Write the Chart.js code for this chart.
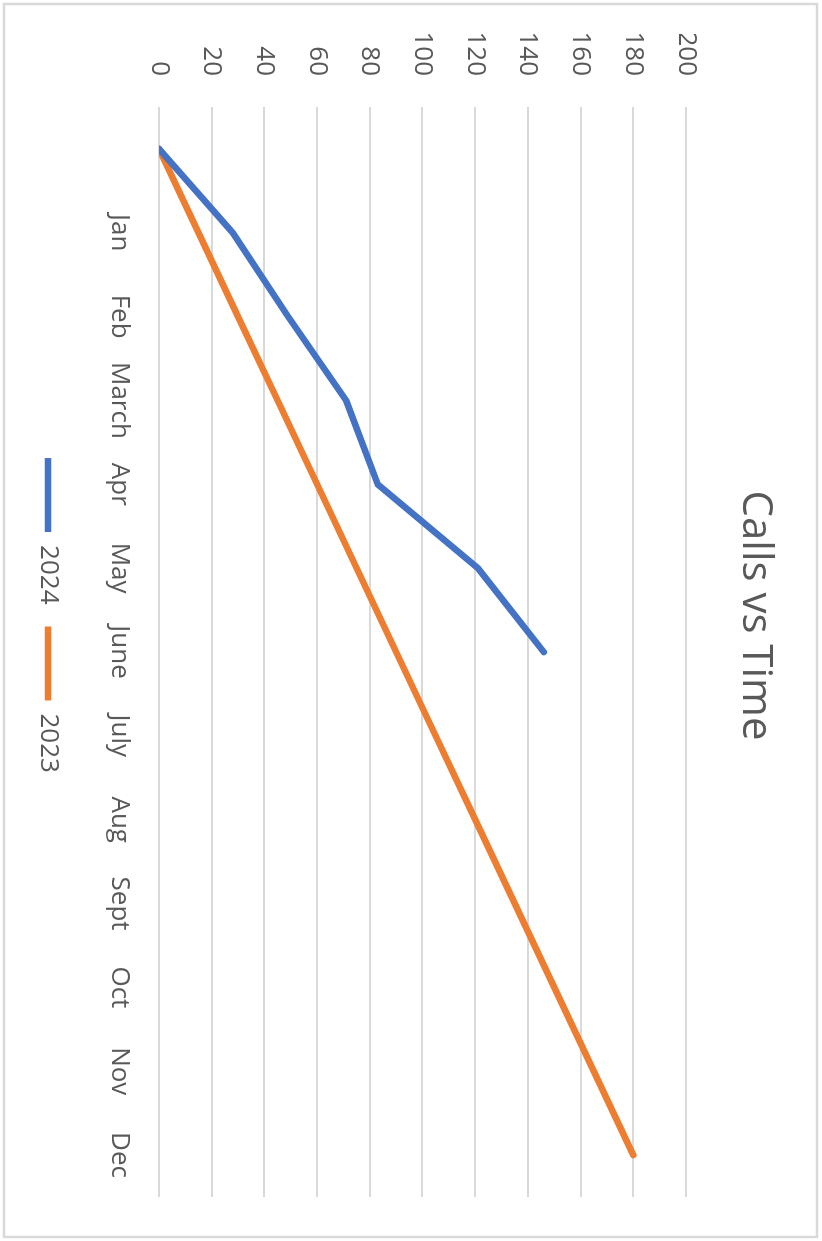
<!DOCTYPE html>
<html>
<head>
<meta charset="utf-8">
<script src="https://cdn.jsdelivr.net/npm/chart.js@4/dist/chart.umd.min.js"></script>
<style>
  html, body { margin: 0; padding: 0; background: #ffffff; overflow: hidden; }
  body { width: 822px; height: 1241px; position: relative; }
  #wrap {
    position: absolute; left: 0; top: 0;
    width: 1241px; height: 822px;
    transform-origin: 0 0;
    transform: translateX(822px) rotate(90deg);
  }
  canvas { display: block; }
</style>
</head>
<body>
<div id="wrap"><canvas id="c" width="1241" height="822" style="width:1241px;height:822px"></canvas></div>
<script>
// ---- data ----
const categories = ["", "Jan", "Feb", "March", "Apr", "May", "June", "July", "Aug", "Sept", "Oct", "Nov", "Dec"];
const calls2024 = [0, 28, 49, 71, 83, 121, 146];
const calls2023 = [0, 15, 30, 45, 60, 75, 90, 105, 120, 135, 150, 165, 180];
const seriesNames = ["2024", "2023"];
const titleText = "Calls vs Time";
const yMin = 0, yMax = 200, yStep = 20;

const textColor = "#595959";
const gridColor = "#d9d9d9";
const fontFamily = "'Open Sans', 'Liberation Sans', sans-serif";

const borderPlugin = {
  id: "frame",
  beforeDraw(chart) {
    const ctx = chart.ctx;
    ctx.save();
    ctx.fillStyle = "#ffffff";
    ctx.fillRect(0, 0, chart.width, chart.height);
    ctx.strokeStyle = "#d9d9d9";
    ctx.lineWidth = 2.5;
    ctx.strokeRect(4, 5, chart.width - 8, chart.height - 9);
    ctx.restore();
  }
};

new Chart(document.getElementById("c"), {
  type: "line",
  data: {
    labels: categories,
    datasets: [
      {
        label: seriesNames[0],
        data: calls2024,
        borderColor: "#4472C4",
        backgroundColor: "#4472C4",
        borderWidth: 6.5,
        pointRadius: 0,
        tension: 0,
        borderCapStyle: "round",
        borderJoinStyle: "round",
        pointStyle: "line"
      },
      {
        label: seriesNames[1],
        data: calls2023,
        borderColor: "#ED7D31",
        backgroundColor: "#ED7D31",
        borderWidth: 6.5,
        pointRadius: 0,
        tension: 0,
        borderCapStyle: "round",
        borderJoinStyle: "round",
        pointStyle: "line"
      }
    ]
  },
  options: {
    responsive: false,
    animation: false,
    devicePixelRatio: 1,
    layout: { padding: { left: 34, right: 44, top: 0, bottom: 25 } },
    plugins: {
      title: {
        display: true,
        text: titleText,
        color: textColor,
        font: { family: fontFamily, size: 42, weight: "normal" },
        padding: { top: 42, bottom: 43.6 }
      },
      legend: {
        display: true,
        position: "bottom",
        labels: {
          color: textColor,
          font: { family: fontFamily, size: 26 },
          usePointStyle: true,
          pointStyleWidth: 74,
          padding: 22
        }
      },
      tooltip: { enabled: false }
    },
    scales: {
      x: {
        type: "category",
        offset: true,
        grid: { display: false, drawTicks: false },
        border: { display: false },
        ticks: {
          color: textColor,
          font: { family: fontFamily, size: 26 },
          padding: 24,
          autoSkip: false,
          maxRotation: 0,
          minRotation: 0
        },
        afterFit(scale) { scale.height = 76; }
      },
      y: {
        min: yMin,
        max: yMax,
        grid: { color: gridColor, lineWidth: 2, drawTicks: false },
        border: { display: false },
        ticks: {
          stepSize: yStep,
          color: textColor,
          font: { family: fontFamily, size: 26 },
          padding: 31
        },
        afterFit(scale) { scale.width = 73; }
      }
    }
  },
  plugins: [borderPlugin]
});
</script>
</body>
</html>
